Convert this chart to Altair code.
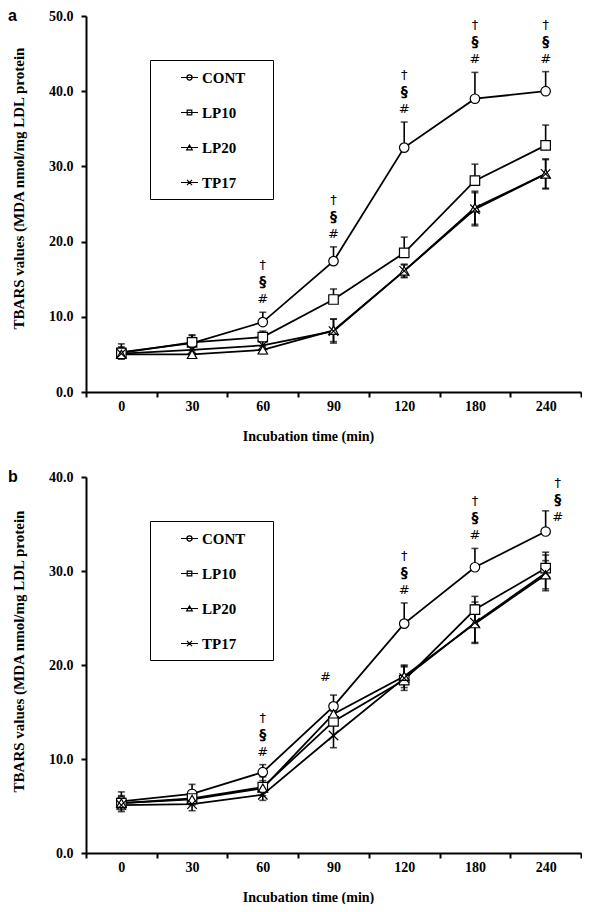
import altair as alt
import pandas as pd

times = ["0", "30", "60", "90", "120", "180", "240"]
groups = ["CONT", "LP10", "LP20", "TP17"]
two_sided = {"CONT": False, "LP10": False, "LP20": True, "TP17": True}

# Panel a values (mean) and error (SD)
a_cont = [5.3, 6.5, 9.3, 17.4, 32.5, 39.0, 40.0]
a_cont_err = [1.1, 1.1, 1.3, 1.9, 3.4, 3.5, 2.6]
a_lp10 = [5.2, 6.6, 7.3, 12.3, 18.5, 28.1, 32.8]
a_lp10_err = [0.8, 0.9, 0.8, 1.4, 2.1, 2.2, 2.7]
a_lp20 = [5.0, 5.0, 5.6, 8.2, 16.1, 24.5, 29.0]
a_lp20_err = [0.6, 0.5, 0.5, 1.5, 0.8, 2.2, 2.0]
a_tp17 = [5.1, 5.6, 6.2, 8.1, 16.1, 24.3, 29.0]
a_tp17_err = [0.7, 0.6, 0.6, 1.6, 0.9, 2.2, 1.9]

# Panel b values (mean) and error (SD)
b_cont = [5.5, 6.3, 8.6, 15.6, 24.4, 30.4, 34.2]
b_cont_err = [1.0, 1.0, 0.8, 1.2, 2.2, 2.0, 2.2]
b_lp10 = [5.3, 5.8, 7.0, 14.0, 18.4, 25.9, 30.3]
b_lp10_err = [0.8, 0.8, 1.1, 1.1, 1.4, 1.4, 1.7]
b_lp20 = [5.3, 5.7, 6.9, 14.8, 18.8, 24.4, 29.6]
b_lp20_err = [0.7, 0.6, 0.8, 1.0, 1.2, 2.0, 1.5]
b_tp17 = [5.1, 5.2, 6.2, 12.5, 18.6, 24.5, 29.8]
b_tp17_err = [0.7, 0.7, 0.6, 1.3, 1.3, 2.2, 1.9]

# significance marks, listed from the bottom of each stack upward
STACK = ["#", "\u00a7", "\u2020"]
a_notes = [("60", STACK, "above"), ("90", STACK, "above"), ("120", STACK, "above"),
           ("180", STACK, "above"), ("240", STACK, "above")]
b_notes = [("60", STACK, "above"), ("90", ["#"], "left"), ("120", STACK, "above"),
           ("180", STACK, "above"), ("240", STACK, "right")]

y_title = "TBARS values (MDA nmol/mg LDL protein"
x_title = "Incubation time (min)"

SERIF = "Liberation Serif"
W = 495

marker_shapes = ["circle", "square", "triangle-up", "M-1,-1L1,1M-1,1L1,-1"]
legend_shapes = [
    "M-1,0L1,0M-0.3,0A0.3,0.3,0,1,1,0.3,0A0.3,0.3,0,1,1,-0.3,0Z",
    "M-1,0L1,0M-0.27,-0.27L0.27,-0.27L0.27,0.27L-0.27,0.27Z",
    "M-1,0L1,0M0,-0.3L0.33,0.27L-0.33,0.27Z",
    "M-1,0L1,0M-0.3,-0.3L0.3,0.3M-0.3,0.3L0.3,-0.3",
]

# placement style: (dx, dy of lowest mark)
PLACES = {"above": (0, -13), "right": (12, 6), "left": (-8, -18)}
LINE_STEP = 17
MARK_STYLE = {0: ("normal", 13), 1: ("bold", 14), 2: ("normal", 13)}


def panel(vals, errs, ymax, notes, letter, h, title_y):
    rows = []
    for g in groups:
        for t, v, e in zip(times, vals[g], errs[g]):
            rows.append({"time": t, "group": g, "value": v,
                         "lo": v - e if two_sided[g] else v, "hi": v + e})
    df = pd.DataFrame(rows)
    top = {t: v + e for t, v, e in zip(times, vals["CONT"], errs["CONT"])}
    nrows = []
    for t, marks, p in notes:
        for k, m in enumerate(marks):
            nrows.append({"time": t, "text": m, "k": k, "top": top[t], "place": p})
    ndf = pd.DataFrame(nrows)

    xaxis = alt.Axis(title=x_title, labelAngle=0, tickBand="extent", tickSize=5, tickWidth=2,
                     domainWidth=2, domainColor="black", tickColor="black",
                     labelPadding=2, titlePadding=16, titleX=222,
                     labelFont=SERIF, labelFontWeight="bold", labelFontSize=14, labelColor="black",
                     titleFont=SERIF, titleFontWeight="bold", titleFontSize=14, titleColor="black")
    yaxis = alt.Axis(title=y_title, values=list(range(0, ymax + 1, 10)), format=".1f",
                     tickSize=5, tickWidth=2, domainWidth=2, domainColor="black", tickColor="black",
                     grid=False, labelPadding=8, titlePadding=22, titleY=title_y,
                     labelFont=SERIF, labelFontWeight="bold", labelFontSize=14, labelColor="black",
                     titleFont=SERIF, titleFontWeight="bold", titleFontSize=15, titleColor="black")
    xenc = alt.X("time:N", sort=times, bandPosition=0.5,
                 scale=alt.Scale(type="band", domain=times, paddingInner=0, paddingOuter=0),
                 axis=xaxis)
    ysc = alt.Scale(domain=[0, ymax], nice=False)

    def Y(f):
        return alt.Y(f, scale=ysc, axis=yaxis)

    base = alt.Chart(df)
    lines = base.mark_line(color="black", strokeWidth=1.8).encode(x=xenc, y=Y("value:Q"), detail="group:N")
    rules = base.mark_rule(color="black", strokeWidth=1.6).encode(x=xenc, y=Y("lo:Q"), y2="hi:Q")
    caps_hi = base.mark_tick(color="black", size=7, thickness=1.6).encode(x=xenc, y=Y("hi:Q"))
    caps_lo = base.transform_filter(alt.datum.lo < alt.datum.value).mark_tick(
        color="black", size=7, thickness=1.6).encode(x=xenc, y=Y("lo:Q"))
    points = base.mark_point(filled=True, fill="white", stroke="black", strokeWidth=1.2,
                             opacity=1, size=90).encode(
        x=xenc, y=Y("value:Q"),
        shape=alt.Shape("group:N", scale=alt.Scale(domain=groups, range=marker_shapes), legend=None))
    legend_layer = base.mark_point(opacity=0).encode(
        x=xenc, y=Y("value:Q"),
        shape=alt.Shape("group:N", scale=alt.Scale(domain=groups, range=legend_shapes),
                        legend=alt.Legend(orient="none", legendX=64, legendY=44,
                                          title="\u00a0", titleOrient="right", titlePadding=20,
                                          strokeColor="black", fillColor="white",
                                          padding=8, rowPadding=17, symbolOffset=22, symbolSize=289,
                                          symbolStrokeColor="black", symbolFillColor="white",
                                          symbolStrokeWidth=1.2, symbolOpacity=1,
                                          labelFont=SERIF, labelFontWeight="bold", labelFontSize=15,
                                          labelColor="black", labelOffset=3)))
    nbase = alt.Chart(ndf)
    note_layers = []
    for place, (dx, dy0) in PLACES.items():
        for k in range(3):
            weight, fsize = MARK_STYLE[k]
            note_layers.append(
                nbase.transform_filter((alt.datum.place == place) & (alt.datum.k == k))
                .mark_text(font="DejaVu Sans", fontSize=fsize, fontWeight=weight, color="black",
                           baseline="middle", align="center", dx=dx, dy=dy0 - LINE_STEP * k)
                .encode(x=xenc, y=Y("top:Q"), text="text:N"))
    letter_layer = alt.Chart(pd.DataFrame({"letter": [letter]})).mark_text(
        font="Liberation Sans", fontWeight="bold", fontSize=16, align="left", baseline="middle",
        color="black").encode(x=alt.value(-78), y=alt.value(0), text="letter:N")

    return alt.layer(lines, rules, caps_hi, caps_lo, points, *note_layers,
                     letter_layer, legend_layer).resolve_scale(shape="independent").properties(
        width=W, height=h)


pa = panel({"CONT": a_cont, "LP10": a_lp10, "LP20": a_lp20, "TP17": a_tp17},
           {"CONT": a_cont_err, "LP10": a_lp10_err, "LP20": a_lp20_err, "TP17": a_tp17_err},
           50, a_notes, "a", 376, 172)
pb = panel({"CONT": b_cont, "LP10": b_lp10, "LP20": b_lp20, "TP17": b_tp17},
           {"CONT": b_cont_err, "LP10": b_lp10_err, "LP20": b_lp20_err, "TP17": b_tp17_err},
           40, b_notes, "b", 376, 174)

chart = alt.vconcat(pa, pb, spacing=26).properties(padding=0).configure_view(stroke=None)

chart.save("out.html", embed_options={"renderer": "svg", "actions": False})
